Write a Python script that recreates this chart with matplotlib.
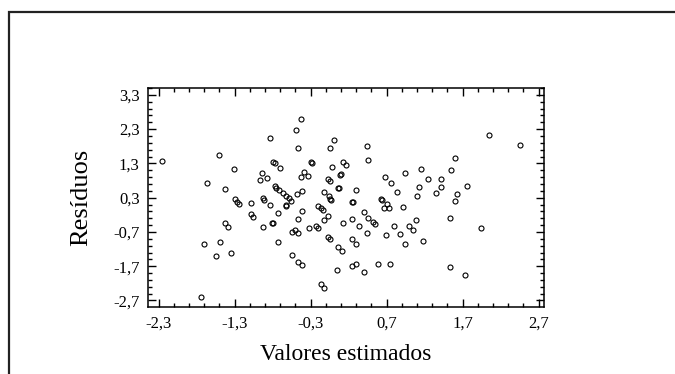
import matplotlib
matplotlib.use("Agg")
import matplotlib.pyplot as plt
from matplotlib.patches import Rectangle
from matplotlib.ticker import FixedLocator, FuncFormatter

plt.rcParams['font.family'] = ['Liberation Serif', 'DejaVu Serif']

valores = [-2.25, -1.74, -1.67, -1.70, -1.55, -1.51, -1.49, -1.43, -1.43, -1.39,
           -1.35, -1.31, -1.30, -1.27, -1.24, -1.09, -1.09, -1.06, -0.96, -0.94,
           -0.93, -0.92, -0.93, -0.87, -0.83, -0.83, -0.80, -0.79, -0.77, -0.77,
           -0.75, -0.73, -0.73, -0.72, -0.70, -0.67, -0.63, -0.62, -0.59, -0.56,
           -0.55, -0.54, -0.50, -0.49, -0.48, -0.47, -0.46, -0.46, -0.46, -0.43,
           -0.43, -0.41, -0.41, -0.41, -0.39, -0.34, -0.32, -0.29, -0.28, -0.23,
           -0.20, -0.20, -0.17, -0.16, -0.14, -0.13, -0.13, -0.12, -0.07, -0.07,
           -0.07, -0.06, -0.05, -0.04, -0.04, -0.04, -0.03, -0.02, 0.01, 0.06,
           0.06, 0.05, 0.09, 0.11, 0.12, 0.13, 0.17, 0.24, 0.25, 0.25,
           0.25, 0.29, 0.29, 0.30, 0.34, 0.40, 0.40, 0.44, 0.44, 0.46,
           0.46, 0.52, 0.54, 0.59, 0.63, 0.64, 0.67, 0.68, 0.69, 0.70,
           0.73, 0.75, 0.76, 0.79, 0.84, 0.88, 0.91, 0.94, 0.94, 0.99,
           1.04, 1.08, 1.10, 1.13, 1.15, 1.18, 1.24, 1.35, 1.41, 1.42,
           1.53, 1.53, 1.55, 1.60, 1.60, 1.63, 1.73, 1.76, 1.94, 2.04,
           2.46, 0.07, 0.10, 0.26, -0.62, -0.81]
residuos = [1.38, -2.60, 0.73, -1.05, -1.41, 1.55, -1.00, 0.55, -0.44, -0.56,
            -1.32, 1.14, 0.26, 0.18, 0.12, 0.14, -0.18, -0.27, 0.81, 1.03,
            0.29, 0.23, -0.56, 0.88, 2.03, 0.09, -0.45, 1.35, 1.30, 0.63,
            0.58, -0.15, -1.00, 0.53, 1.17, 0.44, 0.07, 0.36, 0.28, 0.21,
            -1.38, -0.71, -0.63, 2.28, 0.41, 1.76, -0.74, -0.32, -1.57, 2.60,
            0.90, -0.10, -1.67, 0.49, 1.06, 0.94, -0.59, 1.34, 1.31, -0.53,
            -0.59, 0.07, 0.01, -2.22, -0.07, 0.47, -0.36, -2.35, -0.85, -0.24,
            0.84, 0.35, 1.76, 0.80, 0.26, -0.92, 0.22, 1.20, 1.99, -1.15,
            0.57, -1.82, 0.97, -1.26, 1.35, -0.45, 1.24, -0.32, 0.16, -0.91,
            -1.70, -1.06, -1.64, 0.53, -0.53, -0.12, -1.87, -0.74, 1.80, 1.41,
            -0.30, -0.40, -0.47, -1.64, 0.26, 0.22, -0.01, 0.91, -0.80, 0.11,
            0.01, -1.64, 0.73, -0.53, 0.47, -0.75, 0.03, 1.03, -1.06, -0.54,
            -0.64, -0.36, 0.35, 0.61, 1.14, -0.97, 0.84, 0.44, 0.84, 0.61,
            -0.29, -1.73, 1.12, 0.20, 1.47, 0.42, -1.96, 0.65, -0.59, 2.12,
            1.84, 0.59, 0.98, 0.17, 0.08, -0.44]

xticks = [-2.3, -1.3, -0.3, 0.7, 1.7, 2.7]
yticks = [-2.7, -1.7, -0.7, 0.3, 1.3, 2.3, 3.3]

fig = plt.figure(figsize=(6.75, 3.74), dpi=100)
fig.patches.append(Rectangle((9/675, -0.05), 1.2, 1 - 12/374 + 0.05,
                             transform=fig.transFigure, fill=False,
                             edgecolor='#222222', linewidth=1.6))

ax = fig.add_axes([148/675, 1 - 307/374, (544 - 148)/675, (307 - 88)/374])
ax.plot(valores, residuos, linestyle='none', marker='o', markersize=3.6,
        markerfacecolor='none', markeredgecolor='black', markeredgewidth=0.8)

ax.set_xlim(-2.44, 2.77)
ax.set_ylim(-2.89, 3.50)

def comma(v, pos):
    return f"{v:.1f}".replace('.', ',')

ax.xaxis.set_major_locator(FixedLocator(xticks))
ax.yaxis.set_major_locator(FixedLocator(yticks))
ax.xaxis.set_minor_locator(FixedLocator([-2.3 + 0.2 * i for i in range(-1, 27)]))
ax.yaxis.set_minor_locator(FixedLocator([-2.7 + 0.2 * i for i in range(-1, 32)]))
ax.xaxis.set_major_formatter(FuncFormatter(comma))
ax.yaxis.set_major_formatter(FuncFormatter(comma))

ax.tick_params(which='both', direction='in', top=True, right=True,
               width=1.0, labelsize=12, colors='black')
ax.tick_params(which='major', length=5.5, pad=6)
ax.tick_params(which='minor', length=3)
for s in ax.spines.values():
    s.set_linewidth(1.1)

ax.set_xlabel('Valores estimados', fontsize=17, labelpad=9)
ax.set_ylabel('Resíduos', fontsize=19, labelpad=15)

fig.savefig('out.png', dpi=100)
